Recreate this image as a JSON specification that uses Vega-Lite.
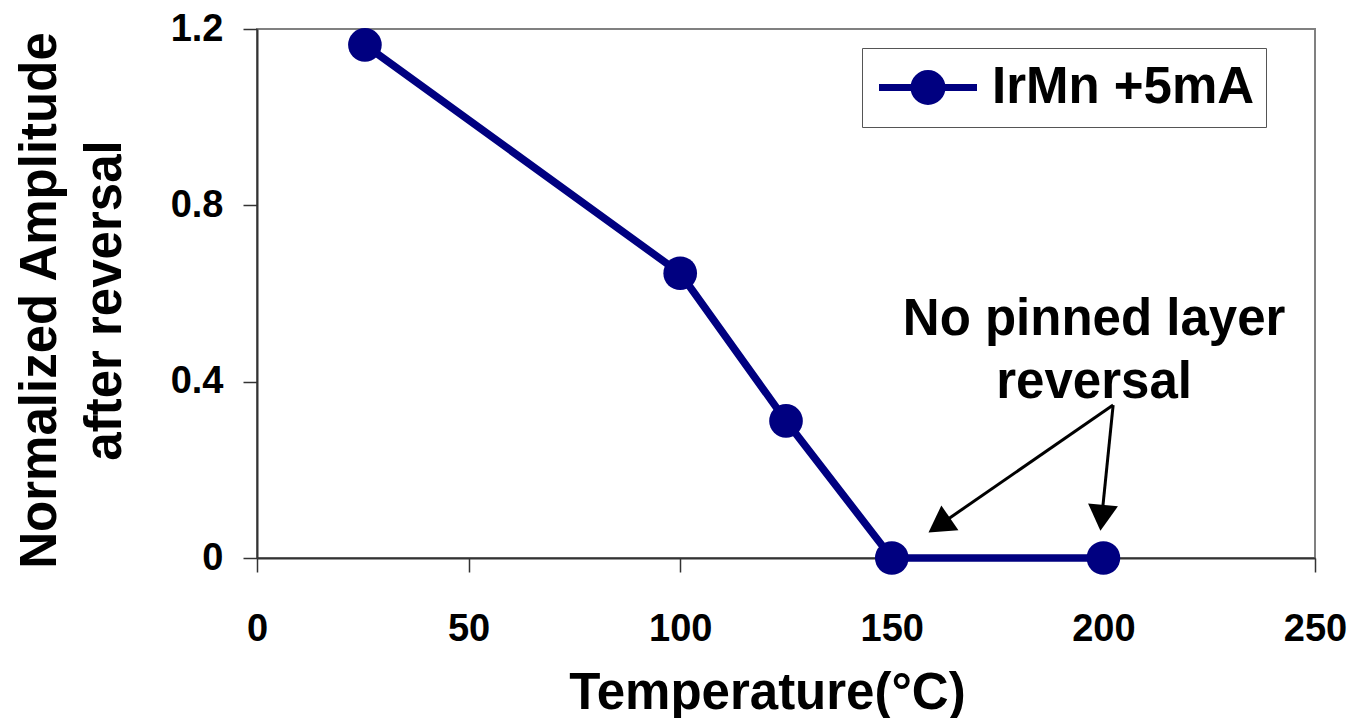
{
  "$schema": "https://vega.github.io/schema/vega-lite/v6.json",
  "autosize": "none",
  "width": 1058,
  "height": 529,
  "padding": {"left": 257, "top": 29, "right": 38, "bottom": 160},
  "background": "white",
  "config": {
    "font": "Liberation Sans",
    "view": {"stroke": "#808080", "strokeWidth": 2},
    "axis": {
      "grid": false,
      "domainColor": "#333333",
      "domainWidth": 2,
      "tickColor": "#333333",
      "tickWidth": 1.5,
      "tickSize": 14,
      "labelFlush": false,
      "labelFont": "Liberation Sans",
      "labelFontWeight": "bold",
      "labelFontSize": 38,
      "labelColor": "black",
      "titleFont": "Liberation Sans",
      "titleFontWeight": "bold",
      "titleFontSize": 51,
      "titleColor": "black"
    }
  },
  "layer": [
    {
      "data": {"values": [
        {"temp": 25.5, "amp": 1.164, "series": "IrMn +5mA"},
        {"temp": 100, "amp": 0.646, "series": "IrMn +5mA"},
        {"temp": 125, "amp": 0.311, "series": "IrMn +5mA"},
        {"temp": 150, "amp": 0, "series": "IrMn +5mA"},
        {"temp": 200, "amp": 0, "series": "IrMn +5mA"}
      ]},
      "layer": [
        {
          "mark": {"type": "line", "strokeWidth": 7.5, "clip": false},
          "encoding": {
            "x": {"field": "temp", "type": "quantitative"},
            "y": {"field": "amp", "type": "quantitative"},
            "color": {"field": "series", "type": "nominal", "scale": {"range": ["#000080"]}, "legend": {
              "orient": "none",
              "legendX": 605,
              "legendY": 19,
              "title": null,
              "padding": 11,
              "strokeColor": "#555555",
              "fillColor": "white",
              "symbolType": "M-0.9,0L3.02,0M0.5,0A0.56,0.56,0,1,1,1.62,0A0.56,0.56,0,1,1,0.5,0Z",
              "symbolSize": 2500,
              "symbolStrokeWidth": 7,
              "symbolFillColor": "#000080",
              "symbolStrokeColor": "#000080",
              "symbolOpacity": 1,
              "labelFont": "Liberation Sans",
              "labelFontWeight": "bold",
              "labelFontSize": 51,
              "labelColor": "black",
              "labelLimit": 600,
              "labelOffset": 62,
              "encode": {"symbols": {"update": {"fill": {"value": "#000080"}, "stroke": {"value": "#000080"}, "strokeWidth": {"value": 7}, "opacity": {"value": 1}}}}
            }}
          }
        },
        {
          "mark": {"type": "point", "filled": true, "opacity": 1, "size": 1134, "shape": "circle"},
          "encoding": {
            "x": {"field": "temp", "type": "quantitative"},
            "y": {"field": "amp", "type": "quantitative"},
            "color": {"field": "series", "type": "nominal"}
          }
        }
      ]
    },
    {
      "data": {"values": [
        {"x1": 202.3, "y1": 0.347, "x2": 161.2, "y2": 0.0744},
        {"x1": 202.3, "y1": 0.347, "x2": 199.6, "y2": 0.0912}
      ]},
      "mark": {"type": "rule", "color": "black", "strokeWidth": 3},
      "encoding": {
        "x": {"field": "x1", "type": "quantitative"},
        "y": {"field": "y1", "type": "quantitative"},
        "x2": {"field": "x2"},
        "y2": {"field": "y2"}
      }
    },
    {
      "data": {"values": [{"x": 161.2, "y": 0.0744}]},
      "mark": {"type": "point", "shape": "triangle-up", "filled": true, "opacity": 1, "color": "black", "size": 900, "angle": 235.3},
      "encoding": {
        "x": {"field": "x", "type": "quantitative"},
        "y": {"field": "y", "type": "quantitative"}
      }
    },
    {
      "data": {"values": [{"x": 199.6, "y": 0.0912}]},
      "mark": {"type": "point", "shape": "triangle-up", "filled": true, "opacity": 1, "color": "black", "size": 900, "angle": 185.7},
      "encoding": {
        "x": {"field": "x", "type": "quantitative"},
        "y": {"field": "y", "type": "quantitative"}
      }
    },
    {
      "data": {"values": [{"x": 197.8, "y": 0.506, "label": "No pinned layer|reversal"}]},
      "mark": {"type": "text", "font": "Liberation Sans", "fontWeight": "bold", "fontSize": 51, "color": "black", "align": "center", "baseline": "alphabetic", "lineBreak": "|", "lineHeight": 63},
      "encoding": {
        "x": {"field": "x", "type": "quantitative"},
        "y": {"field": "y", "type": "quantitative"},
        "text": {"field": "label", "type": "nominal"}
      }
    }
  ],
  "encoding": {
    "x": {
      "field": "temp",
      "type": "quantitative",
      "scale": {"domain": [0, 250], "nice": false, "zero": false},
      "axis": {
        "values": [0, 50, 100, 150, 200, 250],
        "title": "Temperature(°C)",
        "labelPadding": 38,
        "titleX": 510,
        "titleY": 150,
        "titleAlign": "center",
        "titleBaseline": "alphabetic",
        "titleAnchor": null
      }
    },
    "y": {
      "field": "amp",
      "type": "quantitative",
      "scale": {"domain": [0, 1.2], "nice": false},
      "axis": {
        "values": [0, 0.4, 0.8, 1.2],
        "format": ".1~f",
        "title": ["Normalized Amplitude", "after reversal"],
        "labelPadding": 20,
        "titleAngle": -90,
        "titleX": -202,
        "titleY": 271,
        "titleAlign": "center",
        "titleBaseline": "alphabetic",
        "titleLineHeight": 65
      }
    }
  },
  "resolve": {"scale": {"x": "shared", "y": "shared"}}
}
